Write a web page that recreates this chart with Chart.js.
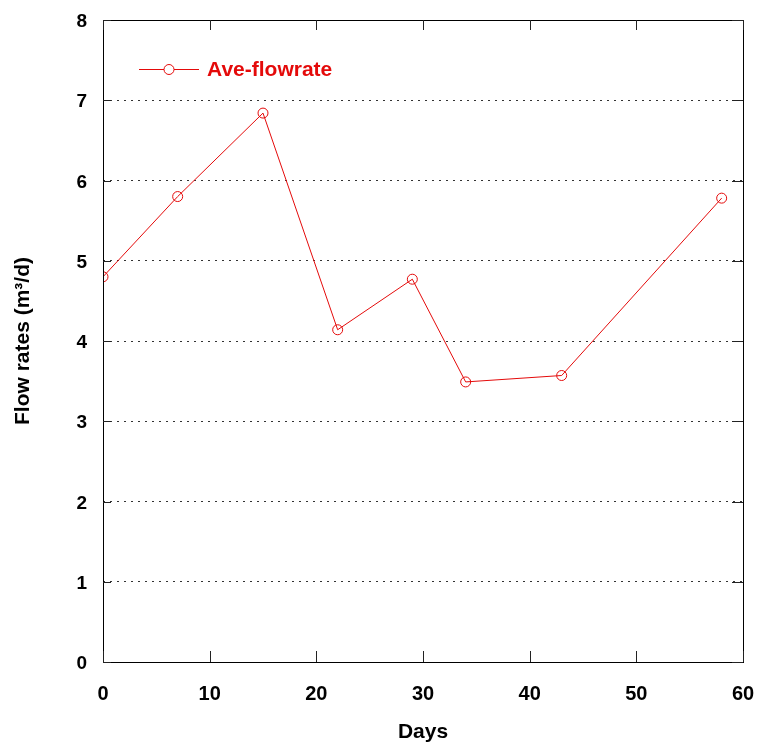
<!DOCTYPE html>
<html>
<head>
<meta charset="utf-8">
<script src="https://cdn.jsdelivr.net/npm/chart.js@4.4.1/dist/chart.umd.min.js"></script>
<style>
  html, body { margin: 0; padding: 0; background: #ffffff; }
  #wrap { width: 757px; height: 744px; }
</style>
</head>
<body>
<div id="wrap"><canvas id="c" width="757" height="744"></canvas></div>
<script>
// ---- data ----
const days = [0, 7, 15, 22, 29, 34, 43, 58];
const aveFlowrate = [4.80, 5.80, 6.84, 4.14, 4.77, 3.49, 3.57, 5.78];
const seriesLabel = 'Ave-flowrate';
const xTitle = 'Days';
const yTitle = 'Flow rates (m\u00B3/d)';
const xRange = [0, 60];
const yRange = [0, 8];

const RED = 'rgb(228, 10, 10)';
const FONT = "'Liberation Sans', Arial, sans-serif";

const points = days.map((d, i) => ({ x: d, y: aveFlowrate[i] }));

const framePlugin = {
  id: 'frame',
  afterDatasetsDraw(chart) {
    const { ctx, chartArea: a, scales } = chart;
    ctx.save();
    ctx.strokeStyle = '#000';
    ctx.lineWidth = 1;
    ctx.setLineDash([]);
    ctx.strokeRect(Math.round(a.left) + 0.5, Math.round(a.top) + 0.5,
      Math.round(a.right - a.left), Math.round(a.bottom - a.top));
    ctx.strokeStyle = '#222';
    ctx.beginPath();
    scales.x.ticks.forEach(t => {
      const px = Math.round(scales.x.getPixelForValue(t.value)) + 0.5;
      ctx.moveTo(px, a.bottom); ctx.lineTo(px, a.bottom - 11);
      ctx.moveTo(px, a.top); ctx.lineTo(px, a.top + 10);
    });
    scales.y.ticks.forEach(t => {
      const py = Math.round(scales.y.getPixelForValue(t.value)) + 0.5;
      ctx.moveTo(a.right, py); ctx.lineTo(a.right - 11, py);
      ctx.moveTo(a.left, py); ctx.lineTo(a.left + 8, py);
    });
    ctx.stroke();

    const ds = chart.data.datasets[0];
    const ly = a.top + 49.5;
    const lx0 = a.left + 36, lx1 = a.left + 96, cx = a.left + 66;
    ctx.strokeStyle = ds.borderColor;
    ctx.lineWidth = 1;
    ctx.beginPath();
    ctx.moveTo(lx0, ly); ctx.lineTo(cx - 5, ly);
    ctx.moveTo(cx + 5, ly); ctx.lineTo(lx1, ly);
    ctx.stroke();
    ctx.beginPath();
    ctx.arc(cx, ly, 5, 0, Math.PI * 2);
    ctx.stroke();
    ctx.fillStyle = ds.borderColor;
    ctx.font = "bold 21px " + FONT;
    ctx.textAlign = 'left';
    ctx.textBaseline = 'middle';
    ctx.fillText(ds.label, a.left + 104, ly + 1);
    ctx.restore();
  }
};

new Chart(document.getElementById('c'), {
  type: 'scatter',
  data: {
    datasets: [{
      label: seriesLabel,
      data: points,
      showLine: true,
      borderColor: RED,
      backgroundColor: 'rgba(0,0,0,0)',
      borderWidth: 1,
      pointRadius: 5,
      pointHoverRadius: 5,
      pointBorderWidth: 1,
      pointBorderColor: RED,
      pointBackgroundColor: 'rgba(0,0,0,0)',
      tension: 0
    }]
  },
  options: {
    responsive: false,
    animation: false,
    devicePixelRatio: 1,
    layout: { padding: { left: 0, right: 14, top: 20, bottom: 0 } },
    plugins: {
      legend: { display: false },
      tooltip: { enabled: false }
    },
    scales: {
      x: {
        type: 'linear',
        min: xRange[0], max: xRange[1],
        ticks: {
          stepSize: 10,
          padding: 20,
          color: '#000',
          font: { family: FONT, size: 20, weight: 'bold' },
          maxRotation: 0
        },
        grid: { display: false, drawTicks: false },
        border: { display: false },
        title: {
          display: true, text: xTitle, color: '#000',
          font: { family: FONT, size: 21, weight: 'bold', lineHeight: 1 },
          padding: { top: 0, bottom: 1 }
        },
        afterFit(scale) {
          scale.height = 82;
          scale.paddingLeft = 0; scale.paddingRight = 0;
        }
      },
      y: {
        type: 'linear',
        min: yRange[0], max: yRange[1],
        ticks: {
          stepSize: 1,
          padding: 16,
          labelOffset: 2,
          color: '#000',
          font: { family: FONT, size: 19, weight: 'bold' }
        },
        grid: {
          display: true,
          drawTicks: false,
          color: '#333',
          lineWidth: 1,
          tickLength: 0
        },
        border: { display: false, dash: [2, 5] },
        title: {
          display: true, text: yTitle, color: '#000',
          font: { family: FONT, size: 21, weight: 'bold', lineHeight: 1 },
          padding: { top: 13, bottom: 0 }
        },
        afterFit(scale) {
          scale.width = 103;
          scale.paddingTop = 0; scale.paddingBottom = 0;
        }
      }
    }
  },
  plugins: [framePlugin]
});
</script>
</body>
</html>
